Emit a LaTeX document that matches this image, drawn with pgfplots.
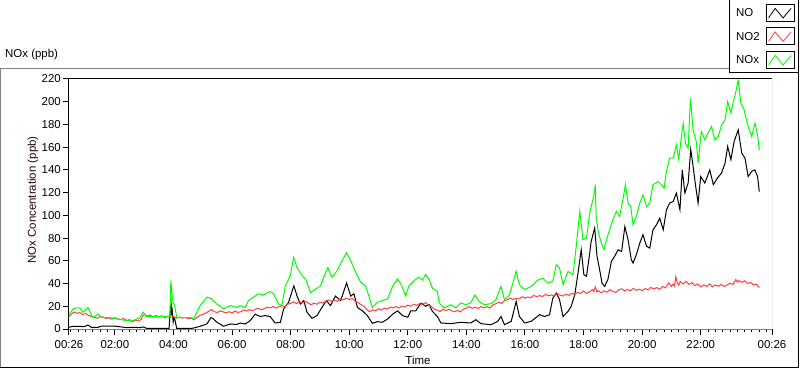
\documentclass[border=0pt]{standalone}
\usepackage{fontspec}
\setmainfont{Liberation Sans}
\usepackage{pgfplots}
\pgfplotsset{compat=1.18}
\definecolor{noxgreen}{RGB}{0,255,0}
\definecolor{no2red}{RGB}{255,64,64}
\definecolor{framegray}{RGB}{128,128,128}
\newcommand{\lvfont}{\fontsize{11.5}{13}\selectfont}
\begin{document}
\begin{tikzpicture}
\useasboundingbox (-69bp,-40bp) rectangle (731bp,329bp);
\fill[white] (-69bp,-40bp) rectangle (731bp,329bp);
% outer panel frame
\draw[framegray, line width=1bp] (-68.5bp,-38bp) -- (-68.5bp,260bp) -- (662bp,260bp);
\draw[black, line width=1bp] (-68.5bp,-38bp) -- (729bp,-38bp) -- (729bp,258bp);
\begin{axis}[
  scale only axis, width=703bp, height=250bp,
  at={(0,0)}, anchor=south west,
  xmin=0.43333, xmax=24.43333, ymin=0, ymax=220,
  axis x line*=bottom, axis y line*=left,
  x axis line style={framegray, line width=1bp},
  y axis line style={black, line width=1bp},
  xtick={0.43333,2,4,6,8,10,12,14,16,18,20,22,24.43333},
  xticklabels={00:26,02:00,04:00,06:00,08:00,10:00,12:00,14:00,16:00,18:00,20:00,22:00,00:26},
  minor xtick={0.5,0.75,...,24.25},
  ytick={0,20,...,220},
  tick align=outside,
  major tick length=6bp, minor tick length=3bp,
  tick style={black, line width=1bp},
  ticklabel style={font=\lvfont},
  /pgf/number format/assume math mode=true,
  yticklabel style={inner xsep=2bp},
  xticklabel style={inner ysep=5bp},
  xlabel={Time},
  xlabel style={at={(axis description cs:0.4964,0)}, anchor=base, yshift=-35.5bp, font=\lvfont},
  ylabel={NOx Concentration (ppb)},
  ylabel style={at={(axis description cs:-0.0512,0.516)}, anchor=center, font=\lvfont, text=black!85!red},
  title={NOx (ppb)},
  title style={at={(axis description cs:-0.0910,1.064)}, anchor=base west, font=\lvfont, inner sep=0pt},
  legend plot pos=right,
  legend cell align=left,
  legend style={at={(1.0384,1.318)}, anchor=north east,
    draw=black, line width=1bp, fill=white,
    inner xsep=4bp, inner ysep=4bp,
    column sep=3bp, row sep=5.7bp,
    font=\lvfont,
    nodes={inner xsep=3bp, inner ysep=0bp, text height=8.2bp, text depth=0bp}},
  legend image code/.code={
    \draw[black, line width=0.8bp, fill=white] (0bp,-8.5bp) rectangle (28bp,8.5bp);
    \draw[#1, line width=0.8bp] (2.5bp,-5bp) -- (9bp,4.5bp) -- (17bp,-5bp) -- (25bp,4.5bp);
  },
]
% NO
\addplot[black, line width=1bp] coordinates {
(0.43,1.5) (0.57,2.4) (0.80,2.4) (0.95,2.0) (1.08,3.5) (1.20,1.5) (1.43,1.5) (1.55,2.6)
(1.83,2.6) (2.05,2.4) (2.4,1.2) (2.62,1.5) (2.85,1.2) (2.97,1.8) (3.08,0.6) (3.54,0.6)
(3.85,0.6) (3.90,20) (3.91,26.5) (3.93,12) (3.95,19) (3.99,6) (4.02,10) (4.05,8) (4.11,0.6)
(4.62,0.6) (4.68,0.8) (4.91,2.4) (5.14,4.4) (5.28,10) (5.34,9.4) (5.48,6) (5.71,2.4)
(5.94,4.4) (6.16,4) (6.28,5.3) (6.45,4.4) (6.62,7.4) (6.79,13) (6.96,11) (7.13,11.8) (7.30,11)
(7.47,5.3) (7.65,5.9) (7.76,17.6) (7.93,23.5) (8.11,38) (8.22,29) (8.33,22) (8.45,25)
(8.56,14.7) (8.73,9.4) (8.90,11.8) (9.07,19) (9.22,25) (9.36,20.6) (9.53,29) (9.71,25)
(9.91,40.6) (10.05,29) (10.16,31) (10.28,19) (10.45,16) (10.62,11.8) (10.79,5) (10.96,6.5)
(11.13,5.9) (11.31,8.8) (11.48,13) (11.65,16) (11.82,11.8) (12.0,10.3) (12.1,16) (12.27,16)
(12.45,22.8) (12.61,20) (12.73,21.4) (12.84,15.5) (13.01,11) (13.13,5.3) (13.47,4.7)
(13.81,5.9) (14.15,5.3) (14.32,8.2) (14.5,4.7) (14.84,3.8) (15.07,6.7) (15.18,11) (15.3,3.8)
(15.53,6.7) (15.7,24.3) (15.81,11) (15.99,5.3) (16.21,6.7) (16.5,12.6) (16.67,11) (16.84,12.6)
(16.95,27.2) (17.07,31.6) (17.18,25.8) (17.3,11) (17.47,15.5) (17.58,20) (17.7,30.2)
(17.81,49) (17.92,69.8) (18.01,47.8) (18.1,46.3) (18.21,66.8) (18.26,77) (18.38,88.8) (18.46,63.9)
(18.55,52) (18.63,40.4) (18.72,37.5) (18.83,43.4) (18.95,59.5) (19.06,63.9) (19.18,69.7)
(19.3,68.2) (19.41,90.2) (19.52,78.5) (19.63,61) (19.69,58) (19.80,65.3) (19.92,75.6)
(20.03,83) (20.15,72.7) (20.26,71.2) (20.37,87.3) (20.49,91.7) (20.60,97.5) (20.72,87.3)
(20.83,104.9) (20.94,110.8) (21.06,112.3) (21.17,119.6) (21.29,104.9) (21.37,140)
(21.46,119.6) (21.57,128.4) (21.66,158) (21.74,143) (21.82,127) (21.91,110.8) (22.0,134.2)
(22.14,128.4) (22.31,140) (22.43,127) (22.57,132.8) (22.71,137.2) (22.83,146) (22.92,160.6)
(23.03,149) (23.14,165) (23.28,175.3) (23.40,154.8) (23.51,150.4) (23.62,134.2)
(23.74,138.7) (23.85,140) (23.94,134.2) (24.0,121)
};
\addlegendentry{NO}
% NO2
\addplot[no2red, line width=1bp] coordinates {
(0.43,11) (0.5,12.5) (0.6,15) (0.7,13.8) (0.8,14.5) (0.9,12.8) (1.0,13.5) (1.1,12) (1.2,11)
(1.3,10.2) (1.4,9.5) (1.5,11) (1.6,10.5) (1.7,9.2) (1.8,9.8) (1.9,8.6) (2.0,10) (2.1,8.8)
(2.2,8.5) (2.3,9.2) (2.4,7.5) (2.5,8.2) (2.6,6.5) (2.7,7.8) (2.8,7) (2.9,8.5) (2.95,11.5)
(3.0,12.6) (3.1,11.4) (3.2,12.3) (3.3,10.5) (3.4,11.8) (3.5,10.8) (3.6,11.6) (3.7,10)
(3.8,11.2) (3.9,10.4) (4.0,11) (4.1,9.5) (4.2,10.6) (4.3,9.6) (4.4,10.2) (4.5,9) (4.6,9.6)
(4.7,8) (4.8,10.2) (4.9,12) (5.0,12.8) (5.1,14) (5.2,15.5) (5.3,17) (5.4,15.2) (5.5,14.5)
(5.6,16) (5.7,15) (5.8,14.2) (5.9,15.2) (6.0,14) (6.1,15.8) (6.2,14.6) (6.3,15.2) (6.4,16.8)
(6.5,15.8) (6.6,17) (6.7,16) (6.8,17.4) (6.9,18.2) (7.0,16.8) (7.1,18) (7.2,19.2) (7.3,18.6)
(7.4,19.8) (7.5,18.4) (7.6,19.6) (7.7,20.4) (7.8,19.6) (7.9,21.8) (8.0,22.6) (8.1,23.8)
(8.2,22.4) (8.3,24) (8.4,23) (8.5,24.4) (8.6,22.8) (8.7,21.4) (8.8,22.8) (8.9,21.8) (9.0,23.6)
(9.1,22.8) (9.2,24.4) (9.3,25.6) (9.4,24.2) (9.5,25.4) (9.6,24.4) (9.7,26.6) (9.8,25.6)
(9.9,27.2) (10.0,26) (10.1,26.8) (10.2,24.6) (10.3,23.4) (10.4,21.4) (10.5,20) (10.6,17.2)
(10.7,15.2) (10.8,16.8) (10.9,16) (11.0,17.8) (11.1,16.6) (11.2,18.4) (11.3,17.6) (11.4,19.4)
(11.5,18.6) (11.6,19.8) (11.7,18.4) (11.8,20.2) (11.9,19.4) (12.0,21) (12.1,20) (12.2,21.8)
(12.3,20.8) (12.4,22.4) (12.5,21.6) (12.6,23.2) (12.7,21.2) (12.8,20) (12.9,17.6) (13.0,16.6)
(13.1,15.4) (13.2,17.2) (13.3,16.2) (13.4,17.4) (13.5,16) (13.6,15.2) (13.7,16.4) (13.8,15)
(13.9,17.6) (14.0,18.4) (14.1,19.6) (14.2,18.2) (14.3,19.2) (14.4,18) (14.5,19.8) (14.6,18.6)
(14.7,19.6) (14.8,18.4) (14.9,21) (15.0,22.2) (15.1,23.4) (15.2,22.6) (15.3,24.8) (15.4,25.8)
(15.5,27.2) (15.6,26) (15.7,27) (15.8,26.4) (15.9,28.4) (16.0,27.2) (16.1,28.2) (16.2,27.4)
(16.3,29.6) (16.4,28.4) (16.5,29.4) (16.6,28.6) (16.7,30.6) (16.8,29.2) (16.9,30) (17.0,29)
(17.1,31.2) (17.2,29.8) (17.3,29) (17.4,30.6) (17.5,29.6) (17.6,31.4) (17.7,30.6) (17.8,32.2)
(17.9,31.2) (18.0,33.4) (18.1,31.4) (18.2,32.6) (18.3,34.6) (18.35,33) (18.4,37) (18.45,32.8)
(18.5,33.8) (18.6,31.8) (18.7,33.6) (18.8,32.4) (18.9,34.6) (19.0,33) (19.1,32.2) (19.2,34.4)
(19.3,35.4) (19.4,33.4) (19.5,34.8) (19.6,33.6) (19.7,35.8) (19.8,34) (19.9,35) (20.0,33.8)
(20.1,35.6) (20.2,34.4) (20.3,36.6) (20.4,35.2) (20.5,36.4) (20.6,35) (20.7,37.4) (20.8,36.2)
(20.9,40.6) (21.0,37.4) (21.05,39.4) (21.1,37.8) (21.15,46) (21.2,40.4) (21.25,38.6)
(21.3,41.8) (21.4,39.6) (21.5,42) (21.6,39.2) (21.7,40.8) (21.8,38.2) (21.9,39.6) (22.0,37)
(22.1,38.8) (22.2,37.4) (22.3,39.6) (22.4,37.2) (22.5,38.8) (22.6,37.6) (22.7,39.2) (22.8,37.4)
(22.9,38.8) (23.0,40.2) (23.1,39.2) (23.2,43.6) (23.25,41.2) (23.3,42.6) (23.4,41) (23.5,42.4)
(23.6,40.2) (23.7,41) (23.8,38.8) (23.9,39.4) (24.0,36.5)
};
\addlegendentry{NO2}
% NOx
\addplot[noxgreen, line width=1bp] coordinates {
(0.43,12.4) (0.57,17.6) (0.68,18.5) (0.80,18.5) (0.91,14.7) (1.08,19) (1.20,12) (1.25,10)
(1.43,13) (1.55,10) (1.83,10) (2.05,9) (2.4,7.4) (2.62,7.4) (2.85,10) (2.97,14.7) (3.08,11)
(3.54,11) (3.88,11) (3.91,42.6) (3.95,30) (3.99,23.5) (4.05,20) (4.11,10) (4.62,10) (4.68,8.8)
(4.74,12) (4.91,20.6) (5.14,28) (5.31,26.5) (5.48,22) (5.71,17.6) (5.94,20.6) (6.16,19)
(6.28,20.6) (6.45,19) (6.56,25) (6.73,28) (6.90,31) (7.07,30) (7.30,33) (7.42,31) (7.59,22)
(7.70,20.6) (7.82,38) (7.99,47) (8.10,63) (8.22,54) (8.39,47) (8.51,44) (8.68,32) (8.85,35)
(9.02,38) (9.13,45.6) (9.27,54) (9.41,45.6) (9.58,51) (9.75,60) (9.91,67) (10.05,60)
(10.22,50) (10.39,41) (10.56,38) (10.67,29) (10.79,19) (10.96,23.5) (11.13,25) (11.31,26.5)
(11.47,37) (11.64,44) (11.76,40) (11.93,29) (12.04,38) (12.21,42.6) (12.38,45.6) (12.5,43)
(12.61,48) (12.72,44) (12.84,36) (13.01,33) (13.07,23) (13.24,18.5) (13.47,21.4) (13.64,18.5)
(13.81,23) (13.98,21.4) (14.15,23) (14.29,30) (14.44,24) (14.61,21.4) (14.84,22.3) (15.01,25.8)
(15.18,37.5) (15.3,25.8) (15.47,30) (15.7,50.7) (15.81,39) (15.99,34.6) (16.21,37.5)
(16.44,43) (16.61,44.8) (16.78,40.4) (16.95,41.9) (17.07,56.6) (17.18,53.6) (17.3,39)
(17.47,50.7) (17.64,47.8) (17.75,72.7) (17.87,103.5) (17.98,78.6) (18.1,80) (18.21,102)
(18.26,107.8) (18.35,116.7) (18.4,127) (18.43,99) (18.51,84.4) (18.61,75.6) (18.7,69.7)
(18.78,78.5) (18.89,87.3) (19.0,96) (19.12,103.4) (19.23,99) (19.34,113.7) (19.43,127)
(19.52,110.8) (19.61,107.8) (19.69,91.7) (19.8,99) (19.92,110.8) (20.03,118) (20.15,107.8)
(20.26,110.8) (20.37,127) (20.55,129.8) (20.66,127) (20.75,124) (20.83,138.7) (20.94,150.4)
(21.06,150.4) (21.17,162) (21.25,149) (21.34,169.4) (21.4,181) (21.48,163.5) (21.57,159)
(21.65,203) (21.74,175) (21.85,165) (21.91,146) (22.02,173.8) (22.14,166.5) (22.25,172.4)
(22.37,178.2) (22.48,166.5) (22.6,169.4) (22.71,179.7) (22.83,184) (22.92,200) (23.03,190)
(23.11,200) (23.19,207.5) (23.28,219) (23.37,198.7) (23.48,193) (23.56,184) (23.64,176.8)
(23.74,169.4) (23.85,181) (23.94,170.9) (24.0,157.7)
};
\addlegendentry{NOx}
\draw[black, line width=1bp] (rel axis cs:0,1) -- (rel axis cs:1,1);
\draw[framegray, line width=1bp] (rel axis cs:1,0) -- (rel axis cs:1,1);
\end{axis}
\end{tikzpicture}
\end{document}
